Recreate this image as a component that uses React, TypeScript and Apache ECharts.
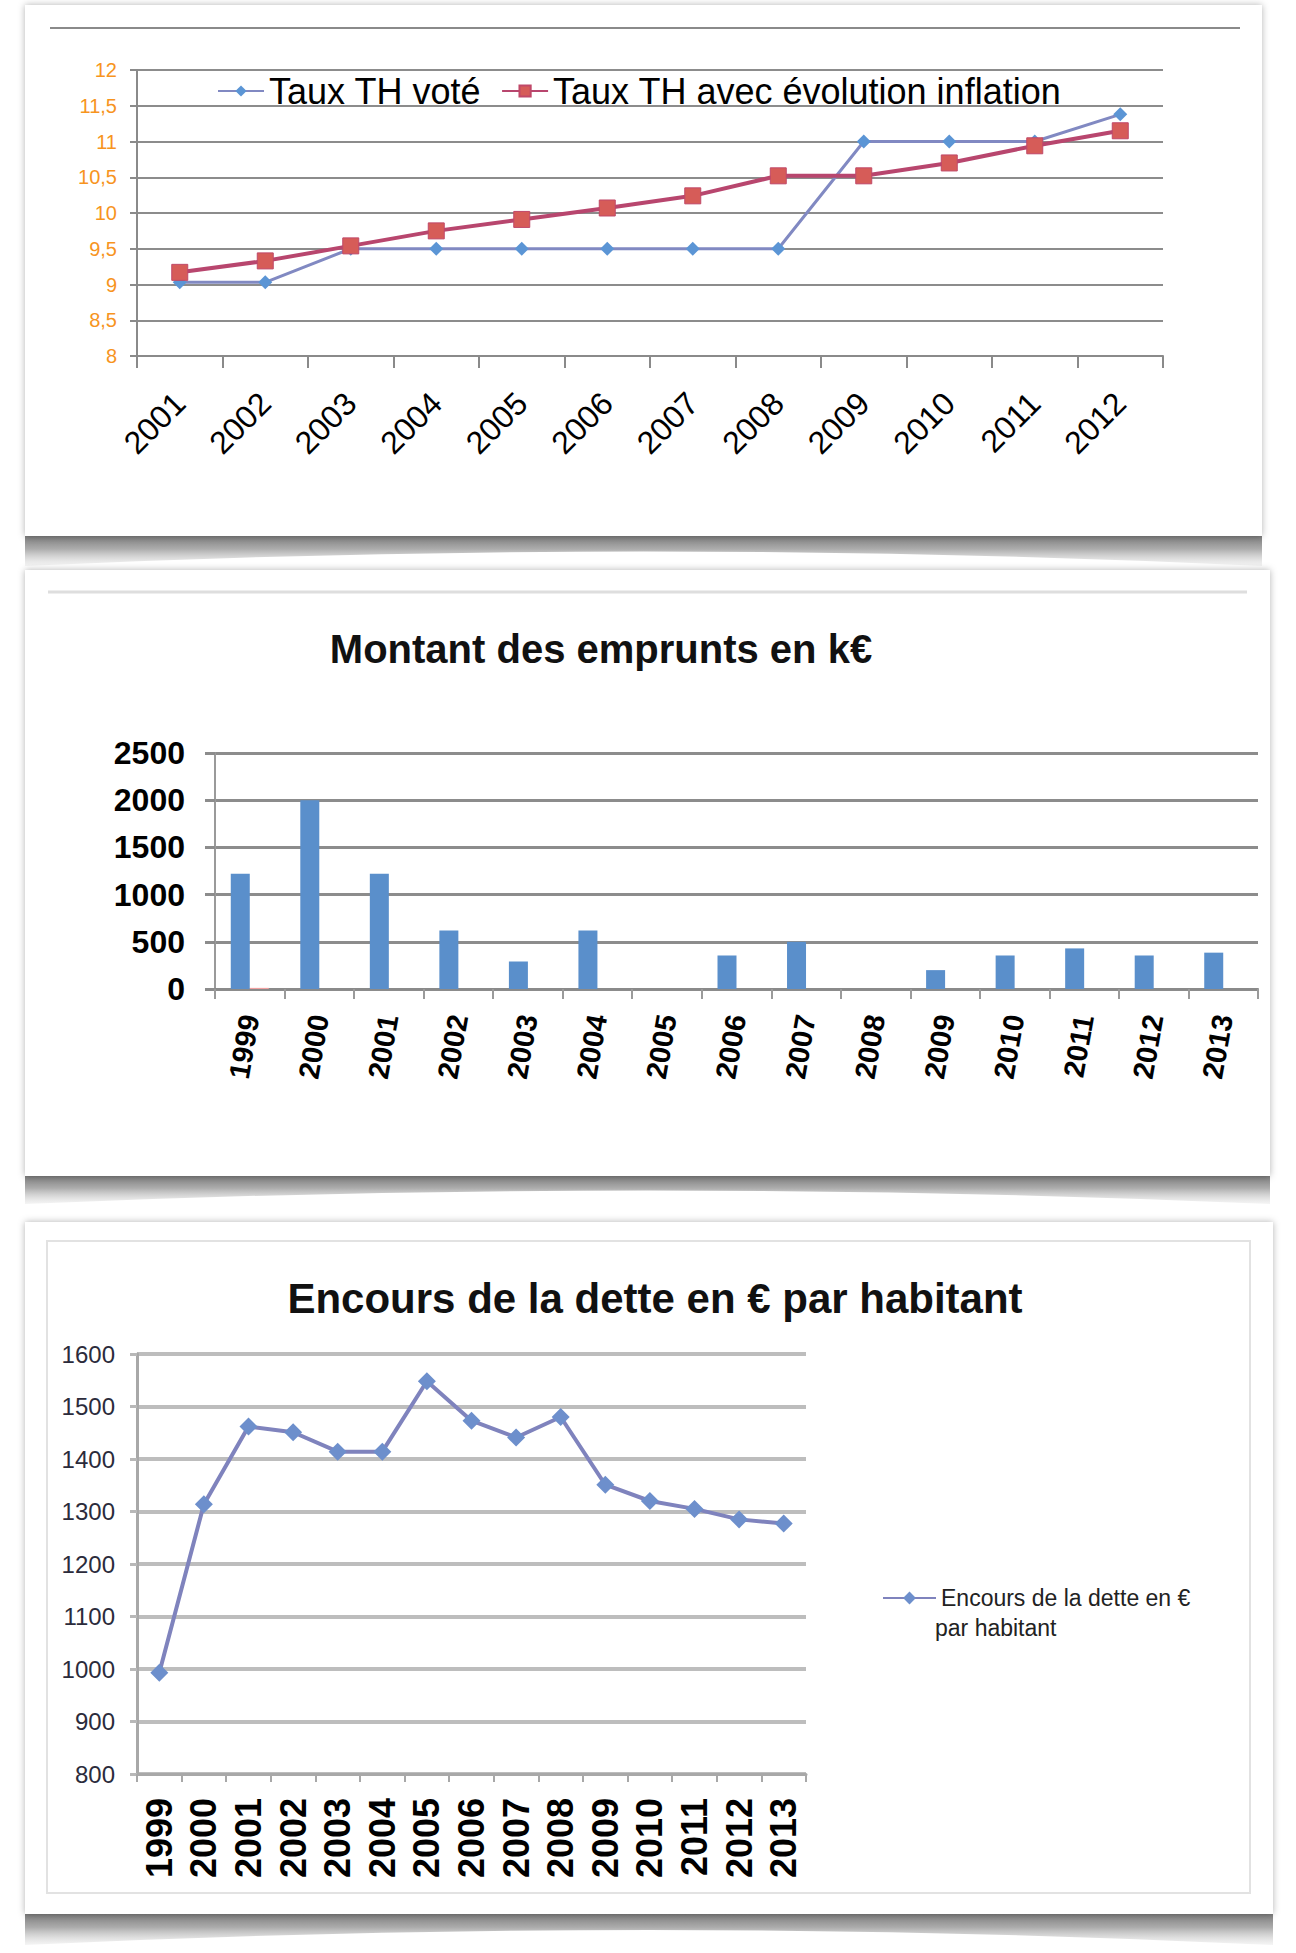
import React, { useEffect, useRef } from "react";
import * as echarts from "echarts";

// ---------- data ----------
const years1 = ["2001", "2002", "2003", "2004", "2005", "2006", "2007", "2008", "2009", "2010", "2011", "2012"];
const tauxVote = [9.03, 9.03, 9.5, 9.5, 9.5, 9.5, 9.5, 9.5, 11, 11, 11, 11.38];
const tauxInflation = [9.17, 9.33, 9.54, 9.75, 9.91, 10.07, 10.24, 10.52, 10.52, 10.7, 10.94, 11.15];

const years2 = ["1999", "2000", "2001", "2002", "2003", "2004", "2005", "2006", "2007", "2008", "2009", "2010", "2011", "2012", "2013"];
const emprunts = [1220, 2000, 1220, 620, 290, 620, 0, 355, 500, 0, 200, 355, 430, 355, 385];
const emprunts2 = [12, null, null, null, null, null, null, null, null, null, null, null, null, null, null];

const years3 = ["1999", "2000", "2001", "2002", "2003", "2004", "2005", "2006", "2007", "2008", "2009", "2010", "2011", "2012", "2013"];
const encours = [993, 1314, 1462, 1451, 1414, 1414, 1548, 1473, 1441, 1480, 1351, 1320, 1305, 1285, 1277];

const title2 = "Montant des emprunts en k€";
const title3 = "Encours de la dette en € par habitant";
const serieVote = "Taux TH voté";
const serieInfl = "Taux TH avec évolution inflation";
const serieEncours = "Encours de la dette en € par habitant";

const FONT = "'Liberation Sans', Arial, Helvetica, sans-serif";

let shapeRegistered = false;
function registerShapes() {
  if (shapeRegistered) return;
  shapeRegistered = true;
  echarts.graphic.registerShape(
    "curvedShadow",
    echarts.graphic.extendPath("M0 0 L1000 0 L1000 30 Q500 2 0 30 Z", {}) as any
  );
}

function cardGraphics(x: number, y: number, w: number, h: number, shadowH: number) {
  return [
    {
      type: "curvedShadow",
      x: x,
      y: y + h - 1,
      scaleX: w / 1000,
      scaleY: shadowH / 30,
      z: 0,
      style: {
        fill: new echarts.graphic.LinearGradient(0, 0, 0, 1, [
          { offset: 0, color: "#7a7a7a" },
          { offset: 0.45, color: "#acacac" },
          { offset: 1, color: "rgba(220,220,220,0.3)" },
        ]),
      },
    },
    {
      type: "rect",
      z: 0,
      shape: { x, y, width: w, height: h },
      style: { fill: "#ffffff", shadowBlur: 7, shadowColor: "rgba(0,0,0,0.3)" },
    },
  ];
}

const plain = (v: number) => String(v);

export default function App() {
  const ref = useRef<HTMLDivElement>(null);

  useEffect(() => {
    if (!ref.current) return;
    registerShapes();
    const chart = echarts.init(ref.current, undefined, { renderer: "svg" });

    const option: any = {
      animation: false,
      backgroundColor: "#ffffff",
      textStyle: { fontFamily: FONT },
      title: [
        {
          text: title2,
          left: 596,
          top: 624,
          textAlign: "center",
          textStyle: { fontSize: 40, fontWeight: "bold", color: "#111", fontFamily: FONT },
        },
        {
          text: title3,
          left: 650,
          top: 1272,
          textAlign: "center",
          textStyle: { fontSize: 42, fontWeight: "bold", color: "#111", fontFamily: FONT },
        },
      ],
      legend: [
        {
          data: [serieVote, serieInfl],
          left: 212,
          top: 66,
          itemWidth: 46,
          itemHeight: 14,
          itemGap: 20,
          textStyle: { fontSize: 36, color: "#000", fontFamily: FONT, lineHeight: 40 },
        },
        {
          data: [serieEncours],
          left: 877,
          top: 1579,
          itemWidth: 53,
          itemHeight: 16,
          formatter: () => "Encours de la dette en €",
          textStyle: { fontSize: 23, color: "#222", fontFamily: FONT, lineHeight: 28 },
        },
      ],
      grid: [
        { left: 137, top: 70, width: 1026, height: 286 },
        { left: 215, top: 753, width: 1043, height: 236 },
        { left: 137, top: 1354, width: 669, height: 420 },
      ],
      xAxis: [
        {
          gridIndex: 0,
          type: "category",
          data: years1,
          boundaryGap: true,
          axisLine: { lineStyle: { color: "#8a8a8a", width: 2 } },
          axisTick: { show: true, length: 12, lineStyle: { color: "#8a8a8a", width: 2 } },
          axisLabel: { rotate: 45, fontSize: 32, color: "#000", margin: 42, interval: 0, fontFamily: FONT },
        },
        {
          gridIndex: 1,
          type: "category",
          data: years2,
          boundaryGap: true,
          axisLine: { lineStyle: { color: "#8a8a8a", width: 2 } },
          axisTick: { show: true, length: 10, lineStyle: { color: "#9a9a9a", width: 2 } },
          axisLabel: { rotate: 80, fontSize: 29, fontWeight: "bold", color: "#000", margin: 26, interval: 0, fontFamily: FONT },
        },
        {
          gridIndex: 2,
          type: "category",
          data: years3,
          boundaryGap: true,
          axisLine: { lineStyle: { color: "#a8a8a8", width: 3 } },
          axisTick: { show: true, length: 8, lineStyle: { color: "#a8a8a8", width: 2 } },
          axisLabel: { rotate: 90, fontSize: 36, fontWeight: "bold", color: "#000", margin: 24, interval: 0, fontFamily: FONT },
        },
      ],
      yAxis: [
        {
          gridIndex: 0,
          type: "value",
          min: 8,
          max: 12,
          interval: 0.5,
          axisLine: { show: true, lineStyle: { color: "#8a8a8a", width: 2 } },
          axisTick: { show: true, length: 7, lineStyle: { color: "#8a8a8a", width: 2 } },
          splitLine: { lineStyle: { color: "#8c8c8c", width: 2 } },
          axisLabel: {
            fontSize: 20,
            color: "#f7941e",
            margin: 20,
            fontFamily: FONT,
            formatter: (v: number) => String(v).replace(".", ","),
          },
        },
        {
          gridIndex: 1,
          type: "value",
          min: 0,
          max: 2500,
          interval: 500,
          axisLine: { show: true, lineStyle: { color: "#9a9a9a", width: 2 } },
          axisTick: { show: true, length: 10, lineStyle: { color: "#8c8c8c", width: 3 } },
          splitLine: { lineStyle: { color: "#8c8c8c", width: 3 } },
          axisLabel: { fontSize: 32, fontWeight: "bold", color: "#000", margin: 30, fontFamily: FONT, formatter: plain },
        },
        {
          gridIndex: 2,
          type: "value",
          min: 800,
          max: 1600,
          interval: 100,
          axisLine: { show: true, lineStyle: { color: "#a8a8a8", width: 3 } },
          axisTick: { show: true, length: 7, lineStyle: { color: "#b8b8b8", width: 3 } },
          splitLine: { lineStyle: { color: "#bdbdbd", width: 4 } },
          axisLabel: { fontSize: 24, color: "#2b2b3b", margin: 22, fontFamily: FONT, formatter: plain },
        },
      ],
      series: [
        {
          name: serieVote,
          type: "line",
          xAxisIndex: 0,
          yAxisIndex: 0,
          data: tauxVote,
          symbol: "diamond",
          symbolSize: 14,
          lineStyle: { color: "#8189c2", width: 3 },
          itemStyle: { color: "#5b95d5" },
          z: 3,
        },
        {
          name: serieInfl,
          type: "line",
          xAxisIndex: 0,
          yAxisIndex: 0,
          data: tauxInflation,
          symbol: "rect",
          symbolSize: 16,
          lineStyle: { color: "#b8466e", width: 4 },
          itemStyle: { color: "#d65c58", borderColor: "#c04868", borderWidth: 1 },
          z: 4,
        },
        {
          name: "Montant",
          type: "bar",
          xAxisIndex: 1,
          yAxisIndex: 1,
          data: emprunts,
          barWidth: 19,
          barGap: "0%",
          itemStyle: { color: "#5a8fcb" },
        },
        {
          name: "Série2",
          type: "bar",
          xAxisIndex: 1,
          yAxisIndex: 1,
          data: emprunts2,
          barWidth: 19,
          barGap: "0%",
          itemStyle: { color: "#f0a0a0" },
        },
        {
          name: serieEncours,
          type: "line",
          xAxisIndex: 2,
          yAxisIndex: 2,
          data: encours,
          symbol: "diamond",
          symbolSize: 18,
          lineStyle: { color: "#7f83bd", width: 4 },
          itemStyle: { color: "#6d8fcc" },
        },
      ],
      graphic: [
        ...cardGraphics(25, 5, 1237, 531, 31),
        ...cardGraphics(25, 570, 1245, 606, 29),
        ...cardGraphics(25, 1222, 1248, 692, 32),
        {
          type: "line",
          z: 1,
          shape: { x1: 50, y1: 28, x2: 1240, y2: 28 },
          style: { stroke: "#8a8a8a", lineWidth: 2 },
        },
        {
          type: "line",
          z: 1,
          shape: { x1: 48, y1: 592, x2: 1247, y2: 592 },
          style: { stroke: "#dedede", lineWidth: 3 },
        },
        {
          type: "rect",
          z: 1,
          shape: { x: 47, y: 1241, width: 1203, height: 652 },
          style: { fill: "none", stroke: "#e2e2e2", lineWidth: 2 },
        },
        {
          type: "text",
          z: 5,
          x: 935,
          y: 1628,
          style: {
            text: "par habitant",
            fontSize: 23,
            fill: "#222",
            fontFamily: FONT,
            verticalAlign: "middle",
            align: "left",
          },
        },
      ],
    };

    chart.setOption(option);
    return () => {
      chart.dispose();
    };
  }, []);

  return (
    <div
      ref={ref}
      style={{ position: "absolute", left: 0, top: 0, width: 1296, height: 1953 }}
    />
  );
}
